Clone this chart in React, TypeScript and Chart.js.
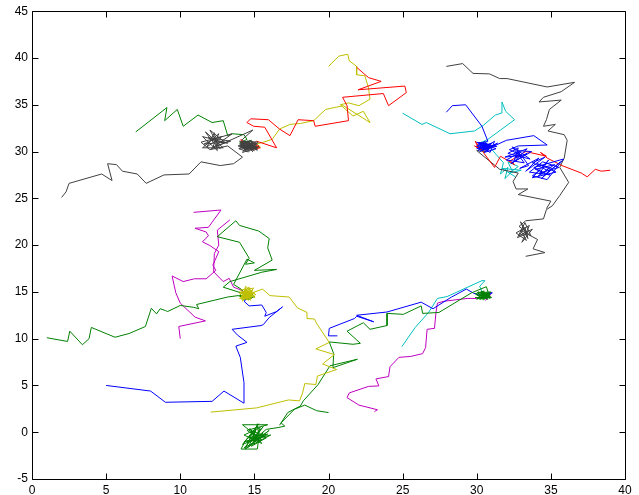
import { useEffect, useRef } from "react";
import { Chart, registerables } from "chart.js";

Chart.register(...registerables);

type Pt = [number, number];

// Axis tick values
const xTickValues = [0, 5, 10, 15, 20, 25, 30, 35, 40];
const yTickValues = [-5, 0, 5, 10, 15, 20, 25, 30, 35, 40, 45];

// ---------- Group around (14.5, 30.5) ----------
const grayA: Pt[] = [
  [2.0, 25.1], [2.3, 25.7], [2.5, 26.6], [4.7, 27.6], [5.4, 26.9], [5.1, 28.7], [5.7, 28.6], [6.1, 27.9],
  [7.1, 27.6], [7.7, 26.6], [8.9, 27.5], [10.6, 27.6], [11.4, 28.9], [12.7, 28.5], [13.6, 28.7], [14.2, 29.4],
  [13.2, 30.6], [12.0, 30.2], [11.4, 31.0], [12.8, 31.6], [11.8, 30.5], [12.3, 32.0], [12.5, 30.1], [11.5, 31.6],
  [13.2, 30.9], [12.1, 31.2], [11.7, 32.1], [12.9, 30.4], [11.5, 30.4], [12.6, 31.9], [12.2, 30.5], [13.4, 31.1],
  [11.9, 31.5], [12.7, 30.3], [12.0, 32.3], [13.0, 31.0], [11.6, 30.8], [12.4, 31.4], [13.5, 31.9], [12.1, 30.3],
  [14.9, 32.3], [14.2, 31.3], [14.3, 31.0],
  [14.1, 30.4], [15.0, 30.9], [14.3, 30.2], [14.9, 30.4], [14.2, 31.0], [15.1, 30.6], [14.4, 30.1], [14.7, 31.1],
  [14.0, 30.7], [15.2, 30.3], [14.5, 30.8], [14.2, 30.3], [14.9, 31.0], [14.4, 30.5], [15.0, 30.1], [14.1, 30.9],
  [14.8, 30.3], [14.3, 30.8], [15.1, 30.9], [14.6, 30.2], [14.0, 30.5], [14.8, 30.7], [14.4, 31.0], [15.0, 30.5],
  [14.5, 30.3], [14.2, 30.6], [14.9, 30.8], [14.6, 30.5], [14.3, 30.4], [14.8, 30.9], [14.5, 30.6],
  [13.9, 30.6], [15.3, 30.5], [14.2, 29.9], [14.7, 31.2], [15.2, 30.8], [13.95, 30.3], [14.6, 29.95], [15.25, 31.0],
  [14.0, 31.1], [14.9, 30.0], [14.35, 30.7], [15.1, 30.35], [14.5, 31.15], [14.15, 30.45], [14.75, 30.6], [15.2, 30.15],
  [14.05, 30.85], [14.65, 30.35], [14.95, 30.65], [14.4, 30.25], [14.85, 31.05], [14.25, 30.95], [15.05, 30.45], [14.55, 30.75],
];
const greenA: Pt[] = [
  [7.0, 32.1], [9.1, 34.7], [8.95, 33.3], [9.8, 34.5], [10.2, 32.7], [11.2, 33.9], [12.15, 33.1], [12.9, 33.3],
  [13.2, 31.7], [13.5, 31.9], [14.3, 31.8], [14.5, 31.3], [14.0, 30.9], [14.8, 31.2], [14.4, 30.6],
];
const redA: Pt[] = [
  [21.9, 39.0], [22.7, 37.9], [23.55, 37.5], [22.0, 36.6], [25.15, 37.0], [25.25, 36.3], [24.05, 34.9], [23.7, 36.2],
  [20.95, 35.8], [21.25, 34.9], [21.35, 33.3], [19.1, 32.7], [19.0, 33.3], [17.95, 33.4], [17.4, 31.7], [16.7, 32.4],
  [15.95, 33.4], [14.75, 33.5], [14.5, 33.1], [14.95, 32.7], [15.7, 32.6], [16.5, 30.4], [15.15, 31.1], [14.6, 30.5],
  [14.1, 31.3], [14.3, 30.3], [15.3, 30.6], [14.8, 30.2], [15.4, 30.4], [14.9, 30.9], [15.2, 30.2],
];
const yellowA: Pt[] = [
  [20.0, 39.1], [20.7, 40.2], [21.3, 40.4], [21.4, 39.7], [21.9, 39.1], [21.9, 38.2], [22.45, 38.1], [22.7, 36.8],
  [22.8, 35.6], [22.05, 34.9], [21.35, 35.2], [20.8, 35.0], [21.65, 33.8], [22.35, 34.3], [22.8, 33.1], [21.0, 34.9],
  [19.8, 34.5], [19.0, 33.3], [18.1, 33.0], [17.4, 32.9], [16.7, 32.4], [16.2, 31.3], [15.6, 31.0], [15.15, 30.8],
  [15.4, 30.5], [14.9, 30.4],
];

// ---------- Group around (30.5, 30.5) ----------
const grayC: Pt[] = [
  [27.95, 39.1], [29.05, 39.4], [29.75, 38.35], [30.85, 38.3], [31.55, 37.8], [32.05, 37.8], [34.75, 36.9], [36.6, 37.4],
  [35.7, 36.4], [34.5, 35.8], [34.2, 35.3], [35.7, 35.5], [34.9, 34.5], [34.7, 33.4], [34.5, 32.7], [35.3, 32.9],
  [34.8, 32.2], [35.9, 31.8], [36.1, 31.2], [35.9, 29.3], [35.6, 28.3], [36.2, 26.7], [35.6, 25.3], [35.1, 24.2],
  [34.7, 23.8], [34.5, 22.8], [33.3, 22.6],
  [32.85, 22.0], [33.45, 21.3], [32.75, 20.8], [33.25, 22.4], [33.65, 21.0], [32.95, 21.6], [33.35, 20.5], [32.65, 21.3],
  [33.55, 22.1], [33.05, 20.3], [33.75, 21.7], [32.85, 21.0], [33.25, 21.9], [33.45, 20.7], [32.95, 22.5], [33.4, 21.2],
  [34.1, 20.6], [33.8, 19.6], [34.6, 19.2], [33.3, 18.8],
];
const grayC2: Pt[] = [
  [30.1, 30.4], [30.6, 30.0], [30.0, 30.1], [31.55, 28.1], [32.8, 27.7], [32.45, 26.8], [32.65, 26.0], [33.45, 26.0],
  [32.8, 25.4], [35.0, 24.7], [34.7, 23.9],
];
const cyanC: Pt[] = [
  [25.0, 34.1], [26.3, 32.9], [26.6, 33.1], [28.2, 31.9], [29.85, 32.2], [30.45, 32.8], [31.25, 33.9], [31.65, 34.1],
  [31.7, 35.3], [31.95, 34.3], [32.55, 33.4], [30.75, 31.3],
  [30.2, 30.9], [30.7, 30.3], [30.0, 30.5], [30.9, 30.8], [30.4, 30.2], [30.6, 31.0],
  [31.3, 29.7], [31.8, 28.8], [31.6, 27.6], [32.1, 28.3], [31.9, 27.1], [32.4, 27.9], [32.1, 28.9], [32.8, 28.4],
  [32.2, 27.7], [33.0, 28.0], [31.7, 28.2], [32.6, 27.3],
];
const blueC: Pt[] = [
  [27.95, 34.2], [28.35, 34.9], [29.25, 35.0], [30.35, 32.7], [30.75, 31.1],
  [30.1, 30.8], [30.8, 30.2], [30.3, 31.0], [30.7, 30.6], [30.0, 30.3], [31.0, 30.9], [30.4, 30.1], [30.2, 30.7],
  [30.9, 30.4], [30.5, 31.1], [30.1, 30.1], [30.7, 30.9], [30.3, 30.4], [31.1, 30.6], [30.4, 30.8], [30.0, 30.6],
  [30.8, 30.0], [30.6, 30.5],
  [30.0, 31.0], [31.3, 30.3], [30.5, 29.9], [31.4, 30.9], [30.2, 30.0], [31.2, 31.1], [30.9, 29.9], [30.45, 30.35],
  [31.35, 30.55], [30.15, 30.95], [30.85, 30.75], [30.55, 30.15],
  [32.0, 31.2], [33.85, 31.7], [34.75, 30.7], [32.8, 30.6],
  [32.2, 30.2], [33.0, 29.6], [31.9, 29.4], [33.4, 30.3], [32.5, 28.9], [32.8, 30.4], [32.1, 29.8], [33.6, 29.2],
  [32.4, 30.5], [33.2, 28.8], [32.0, 29.1], [32.9, 29.9], [32.6, 29.3], [33.4, 29.8], [32.3, 28.7], [33.7, 30.0],
  [32.7, 30.1], [33.1, 29.4], [33.5, 28.5], [32.9, 28.2], [34.2, 29.3], [33.3, 27.9], [34.6, 29.4],
  [33.75, 28.8], [34.75, 28.0], [34.15, 27.4], [35.25, 28.6], [33.95, 28.1], [34.95, 27.5], [33.55, 27.8], [34.45, 28.9],
  [35.55, 28.3], [34.25, 27.7], [34.85, 29.1], [33.75, 27.2], [35.35, 27.8], [34.55, 28.4], [34.05, 28.7], [35.05, 28.2],
  [34.35, 27.1], [35.65, 28.9], [34.65, 27.6], [33.85, 28.3], [35.85, 29.2], [34.75, 27.0], [33.75, 27.4], [34.25, 28.0],
];
const redC: Pt[] = [
  [39.0, 28.0], [38.4, 27.9], [38.0, 28.1], [37.45, 27.3], [37.05, 27.7], [35.75, 28.5], [34.75, 29.3], [34.3, 29.9],
  [34.7, 29.5], [33.3, 30.0], [32.25, 29.0], [32.55, 28.6], [31.6, 29.5], [31.2, 28.3], [30.4, 30.0], [29.9, 31.1],
  [30.1, 30.4], [29.85, 30.6], [30.3, 30.2],
];

// ---------- Group around (14.5, 14.5) ----------
const greenD1: Pt[] = [
  [1.0, 10.1], [2.4, 9.7], [2.55, 10.8], [3.4, 9.35], [3.85, 10.0], [4.0, 11.2], [5.6, 10.15], [6.55, 10.55],
  [7.65, 11.3], [8.05, 13.25], [8.4, 12.65], [8.65, 13.2], [9.0, 13.0], [9.15, 12.9], [10.0, 13.55], [10.9, 13.35],
  [11.25, 13.2], [11.1, 13.65], [13.2, 14.45], [13.9, 14.6],
  [14.3, 14.4], [14.9, 14.7], [14.0, 14.6], [14.6, 14.2], [15.0, 14.5], [14.4, 14.9], [14.8, 14.3], [14.2, 14.2],
];
const greenD2: Pt[] = [
  [14.5, 14.7], [14.1, 15.3], [13.6, 15.8], [14.5, 18.5], [15.0, 18.1], [14.4, 17.95], [14.65, 18.6], [14.0, 20.3],
  [12.5, 20.9], [13.75, 22.6], [14.0, 22.1], [15.3, 21.5], [16.0, 20.7], [15.9, 19.7], [16.2, 18.4], [15.0, 17.3],
  [16.5, 17.4], [15.5, 17.1], [13.35, 16.1], [12.9, 15.5], [14.3, 14.8],
];
const magentaD1: Pt[] = [
  [10.0, 10.0], [9.9, 11.3], [11.7, 11.9], [11.0, 12.3], [10.0, 13.8], [9.7, 14.9], [9.45, 16.7], [10.2, 16.1],
  [10.95, 16.4], [11.75, 16.4], [12.4, 17.3], [12.2, 17.85], [12.6, 19.3], [12.0, 19.95], [11.5, 20.35], [11.9, 21.0],
  [11.75, 21.4], [11.0, 21.8], [11.9, 21.9], [12.75, 23.75], [10.9, 23.5],
];
const magentaD2: Pt[] = [
  [13.35, 22.7], [12.5, 21.6], [12.6, 20.0], [12.3, 19.1], [12.25, 17.15], [12.9, 16.1], [13.3, 16.45], [13.6, 15.5],
  [14.1, 15.2], [14.5, 14.6], [14.2, 14.9],
];
const yellowD: Pt[] = [
  [12.05, 2.15], [15.15, 2.6], [17.3, 3.45], [18.05, 3.35], [18.25, 4.2], [18.4, 5.2], [19.15, 5.1], [19.25, 6.0],
  [20.55, 6.7], [19.6, 7.3], [20.4, 8.3], [19.15, 8.9], [20.05, 9.6], [19.25, 11.5], [19.05, 12.1], [18.55, 12.15],
  [18.55, 12.8], [17.9, 13.3], [17.35, 14.45], [16.05, 14.6], [15.55, 15.3], [14.85, 14.9],
  [14.1, 14.5], [14.8, 15.0], [14.3, 14.2], [14.9, 14.6], [14.2, 15.1], [14.6, 14.1], [14.0, 14.8], [14.7, 15.3],
  [14.4, 14.4], [15.0, 14.9], [14.2, 14.7], [14.8, 14.3], [14.5, 15.0], [14.1, 14.2], [14.9, 15.2], [14.3, 14.9],
  [14.6, 14.4], [14.0, 15.0], [14.7, 14.7], [14.4, 15.4], [14.5, 14.2], [14.2, 14.5], [14.9, 14.8], [14.6, 15.1],
  [14.3, 14.6], [14.0, 14.3], [15.1, 14.7], [14.4, 15.6], [14.2, 14.0], [14.95, 15.4], [14.05, 15.2], [14.75, 14.1],
  [14.35, 15.3], [15.05, 14.4], [14.15, 14.9], [14.65, 15.5], [14.85, 14.55], [14.25, 14.35], [14.55, 14.85],
  [14.45, 15.2], [14.7, 14.25],
];
const blueD: Pt[] = [
  [5.0, 5.0], [8.0, 4.4], [9.0, 3.2], [12.15, 3.3], [12.95, 4.4], [14.3, 3.1], [14.3, 5.3], [14.05, 8.0],
  [13.75, 9.2], [14.5, 9.6], [13.85, 10.4], [13.5, 11.0], [15.45, 11.4], [15.6, 11.5], [16.0, 12.25], [16.9, 13.4],
  [16.5, 12.9], [15.7, 12.4], [15.8, 12.8], [15.5, 13.6], [14.65, 13.5], [14.3, 14.0], [14.6, 14.4],
];

// ---------- Groups around (30.5, 14.5) and (15, -0.5) ----------
const greenF: Pt[] = [
  [30.0, 14.6], [30.7, 14.9], [30.2, 14.2], [30.8, 14.5], [30.1, 15.0], [30.6, 14.3], [29.9, 14.8], [30.5, 15.1],
  [30.3, 14.4], [30.9, 14.7], [30.1, 14.3], [30.7, 14.6], [30.4, 15.0], [30.0, 14.2], [30.8, 14.9], [30.2, 14.7],
  [30.5, 14.2], [30.3, 14.9], [30.6, 14.7], [30.4, 14.4],
  [29.9, 14.4], [31.0, 14.4], [30.3, 15.1], [30.75, 14.2], [30.05, 14.9], [30.95, 15.0], [30.45, 14.15], [30.15, 14.55],
  [30.85, 14.75], [30.35, 14.65], [30.55, 14.95], [30.25, 14.35], [30.65, 14.45], [30.9, 14.3],
  [30.65, 15.55], [29.65, 14.9], [28.6, 13.9], [27.45, 12.8], [26.35, 12.7], [26.25, 13.5], [25.05, 12.6], [23.95, 12.7],
  [23.95, 11.4], [22.8, 11.0], [22.35, 11.7], [21.25, 10.8], [22.15, 9.5], [21.65, 9.4], [20.05, 9.65], [20.35, 8.4],
  [20.3, 6.9], [21.95, 7.8], [20.1, 7.1], [19.3, 5.1], [18.3, 3.35], [18.1, 2.8], [17.25, 2.1], [16.7, 0.75],
];
const greenE: Pt[] = [
  [20.0, 2.1], [19.2, 2.3], [18.4, 2.9], [17.7, 2.45], [16.8, 1.0], [17.05, 0.65], [16.6, 0.5],
  [15.8, 0.3], [14.8, -1.0], [15.6, 0.6], [14.3, -1.7], [15.9, -0.2], [14.6, -0.6], [15.3, 0.9], [14.2, -1.3],
  [15.7, -0.4], [14.9, 0.1], [14.4, -1.8], [16.0, 0.2], [15.1, -0.9], [14.7, 0.4], [15.5, -1.2], [14.3, -0.3],
  [15.4, 0.5], [14.8, -1.5], [15.8, -0.6], [15.0, -0.2], [14.5, -1.1], [15.3, -0.4], [15.2, 0.9], [14.9, -0.7],
  [15.6, -0.1], [14.6, -1.6], [15.1, 0.2], [14.4, -0.9], [14.1, -1.8], [15.2, -1.8], [15.3, -0.6],
  [14.2, 0.8], [15.9, 0.8], [14.5, 0.2], [15.5, -0.8], [14.3, -1.0], [16.1, -0.3], [14.9, -1.3], [15.4, 0.2],
];
const magentaE: Pt[] = [
  [23.1, 2.2], [23.3, 2.4], [22.05, 2.9], [21.25, 3.7], [21.4, 4.2], [22.7, 4.9], [23.4, 4.95], [23.2, 5.7],
  [24.05, 5.95], [24.15, 7.0], [24.75, 8.0], [25.55, 8.1], [26.35, 8.4], [26.55, 9.05], [26.65, 11.0], [27.15, 11.1],
  [27.25, 12.8], [27.35, 13.8], [27.8, 14.0], [29.35, 14.3], [30.0, 14.3],
  [30.3, 14.3], [30.9, 14.6], [30.6, 14.1], [31.0, 14.9], [30.5, 14.7],
];
const blueF: Pt[] = [
  [20.6, 10.3], [20.0, 10.3], [20.05, 11.1], [21.75, 12.15], [21.9, 12.4], [23.05, 11.8], [21.9, 12.5], [23.95, 12.85],
  [26.25, 13.9], [27.05, 13.2], [28.3, 14.45], [29.3, 15.3], [29.8, 14.85], [30.3, 14.6], [30.8, 14.9], [31.05, 14.9],
  [30.6, 14.5],
];
const cyanF: Pt[] = [
  [24.95, 9.15], [25.85, 11.2], [26.75, 12.8], [27.35, 14.3], [28.0, 14.5], [30.35, 16.2], [30.55, 16.2], [30.2, 15.6],
  [30.4, 14.8], [30.6, 14.3],
];

const BLUE = "#0000ff";
const GREEN = "#008000";
const RED = "#ff0000";
const CYAN = "#00bfbf";
const MAGENTA = "#bf00bf";
const YELLOW = "#bfbf00";
const GRAY = "#404040";

// first = drawn on top
const series: { data: Pt[]; color: string }[] = [
  { data: grayA, color: GRAY },
  { data: blueC, color: BLUE },
  { data: redC, color: RED },
  { data: grayC, color: GRAY },
  { data: grayC2, color: GRAY },
  { data: cyanC, color: CYAN },
  { data: yellowD, color: YELLOW },
  { data: greenD2, color: GREEN },
  { data: greenD1, color: GREEN },
  { data: greenF, color: GREEN },
  { data: blueF, color: BLUE },
  { data: magentaE, color: MAGENTA },
  { data: cyanF, color: CYAN },
  { data: greenE, color: GREEN },
  { data: redA, color: RED },
  { data: yellowA, color: YELLOW },
  { data: greenA, color: GREEN },
  { data: magentaD2, color: MAGENTA },
  { data: magentaD1, color: MAGENTA },
  { data: blueD, color: BLUE },
];

const boxPlugin = {
  id: "matlabBox",
  afterDatasetsDraw(chart: any) {
    const { ctx, chartArea, scales } = chart;
    const { left, right, top, bottom } = chartArea;
    const xs = scales.x;
    const ys = scales.y;
    ctx.save();
    ctx.strokeStyle = "#000";
    ctx.lineWidth = 1;
    ctx.beginPath();
    const L = Math.round(left) + 0.5;
    const R = Math.round(right) + 0.5;
    const T = Math.round(top) + 0.5;
    const B = Math.round(bottom) + 0.5;
    ctx.rect(L, T, R - L, B - T);
    const len = 6;
    xTickValues.forEach((v) => {
      const px = Math.round(xs.getPixelForValue(v)) + 0.5;
      ctx.moveTo(px, B);
      ctx.lineTo(px, B - len);
      ctx.moveTo(px, T);
      ctx.lineTo(px, T + len);
    });
    yTickValues.forEach((v) => {
      const py = Math.round(ys.getPixelForValue(v)) + 0.5;
      ctx.moveTo(L, py);
      ctx.lineTo(L + len, py);
      ctx.moveTo(R, py);
      ctx.lineTo(R - len, py);
    });
    ctx.stroke();
    ctx.restore();
  },
};

export default function App() {
  const ref = useRef<HTMLCanvasElement | null>(null);
  useEffect(() => {
    if (!ref.current) return;
    const chart = new Chart(ref.current, {
      type: "scatter",
      data: {
        datasets: series.map((s) => ({
          data: s.data.map(([x, y]) => ({ x, y })),
          showLine: true,
          borderColor: s.color,
          backgroundColor: s.color,
          borderWidth: 1,
          pointRadius: 0,
          pointHoverRadius: 0,
          tension: 0,
        })),
      },
      options: {
        animation: false,
        responsive: false,
        devicePixelRatio: 1,
        layout: { padding: { left: 0, right: 14, top: 11, bottom: 0 } },
        plugins: { legend: { display: false }, tooltip: { enabled: false } },
        events: [],
        scales: {
          x: {
            type: "linear",
            min: 0,
            max: 40,
            afterBuildTicks: (scale: any) => {
              scale.ticks = xTickValues.map((v) => ({ value: v }));
            },
            afterFit: (scale: any) => {
              scale.height = 16;
            },
            grid: { display: false, drawTicks: false },
            border: { display: false },
            ticks: {
              color: "#000",
              padding: 4,
              maxRotation: 0,
              autoSkip: false,
              font: { family: "Liberation Sans, Arial, sans-serif", size: 12 },
            },
          },
          y: {
            type: "linear",
            min: -5,
            max: 45,
            afterBuildTicks: (scale: any) => {
              scale.ticks = yTickValues.map((v) => ({ value: v }));
            },
            afterFit: (scale: any) => {
              scale.width = 32;
            },
            grid: { display: false, drawTicks: false },
            border: { display: false },
            ticks: {
              color: "#000",
              padding: 4,
              autoSkip: false,
              font: { family: "Liberation Sans, Arial, sans-serif", size: 12 },
            },
          },
        },
      },
      plugins: [boxPlugin],
    });
    return () => chart.destroy();
  }, []);
  return (
    <div style={{ position: "fixed", left: 0, top: 0, width: 639, height: 495, background: "#fff" }}>
      <canvas ref={ref} width={639} height={495} style={{ display: "block", width: 639, height: 495 }} />
    </div>
  );
}
